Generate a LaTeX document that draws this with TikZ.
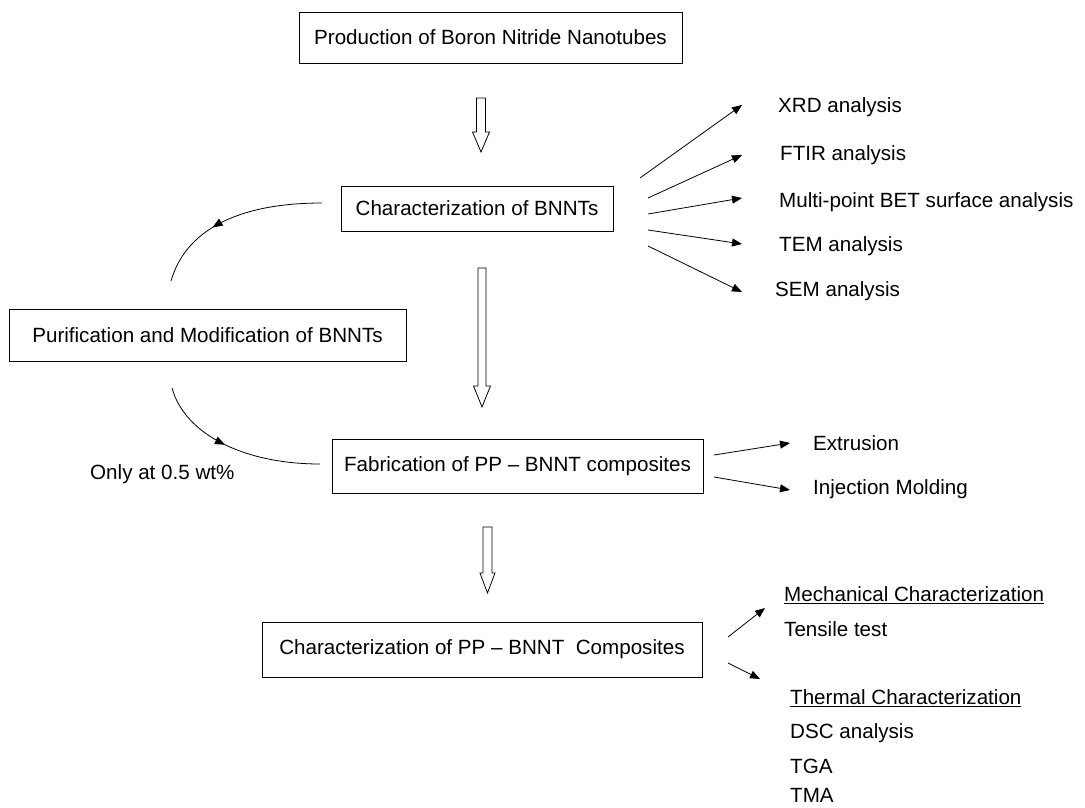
\documentclass[tikz,border=0pt]{standalone}
\usepackage{fontspec}
\setmainfont{Liberation Sans}
\usetikzlibrary{arrows.meta,decorations.markings}
\begin{document}
\begin{tikzpicture}[x=1pt,y=-1pt,
  every node/.style={font=\fontsize{20.6}{24}\selectfont},
  box/.style={draw,line width=0.9pt,inner sep=0pt,align=center},
  lbl/.style={anchor=west,inner sep=0pt},
  arr/.style={line width=0.8pt,-{Triangle[length=10pt,width=8pt]}},
  curv/.style={line width=0.8pt,postaction={decorate},
    decoration={markings,mark=at position #1 with {\arrow{Triangle[length=10pt,width=8pt]}}}},
  hollow/.style={draw,line width=0.8pt,fill=white,line join=miter}
]
\useasboundingbox (0,0) rectangle (1085,808);

% boxes
\node[box,minimum width=383pt,minimum height=51pt] (prod) at (490.5,37.5) {Production of Boron Nitride Nanotubes};
\node[box,minimum width=272pt,minimum height=45pt] (cb) at (477,208.5) {Characterization of BNNTs};
\node[box,minimum width=397pt,minimum height=52pt] (pur) at (207.5,335) {Purification and Modification of BNNTs};
\node[box,minimum width=371pt,minimum height=54pt] (fab) at (517.5,466) {Fabrication of PP -- BNNT composites};
\node[box,minimum width=440pt,minimum height=55pt] (cpp) at (482,649.5) {Characterization of PP -- BNNT\ \ Composites};

% hollow arrows
\newcommand\hollowarrow[6]{% x, halfshaft, top, headstart, halfhead, tip
  \path[hollow] (#1-#2,#3) -- (#1+#2,#3) -- (#1+#2,#4) -- (#1+#5,#4) -- (#1,#6) -- (#1-#5,#4) -- (#1-#2,#4) -- cycle;}
\hollowarrow{481}{4.5}{98}{132}{8.5}{152}
\hollowarrow{482}{4}{268}{386}{8.5}{407}
\hollowarrow{487.5}{4.5}{527}{573}{7.5}{593}

% right labels for BNNT characterization
\node[lbl] (xrd) at (778,107) {XRD analysis};
\node[lbl] (ftir) at (780,155) {FTIR analysis};
\node[lbl] (bet) at (779,202) {Multi-point BET surface analysis};
\node[lbl] (tem) at (779,246) {TEM analysis};
\node[lbl] (sem) at (775,291) {SEM analysis};

\coordinate (s1) at (640,178); \coordinate (e1) at (742,105);
\coordinate (s2) at (648,198); \coordinate (e2) at (742,155);
\coordinate (s3) at (648,214); \coordinate (e3) at (742,198);
\coordinate (s4) at (648,230); \coordinate (e4) at (742,244);
\coordinate (s5) at (648,246); \coordinate (e5) at (742,292);
\draw[arr] (s1) -- (e1);
\draw[arr] (s2) -- (e2);
\draw[arr] (s3) -- (e3);
\draw[arr] (s4) -- (e4);
\draw[arr] (s5) -- (e5);

% fabrication outputs
\node[lbl] (extr) at (813,443) {Extrusion};
\node[lbl] (inj) at (813,489) {Injection Molding};
\coordinate (f1s) at (714,455); \coordinate (f1e) at (790,443);
\coordinate (f2s) at (714,477); \coordinate (f2e) at (790,490);
\draw[arr] (f1s) -- (f1e);
\draw[arr] (f2s) -- (f2e);

% composite characterization outputs
\node[lbl] (mech) at (784,595) {\underline{Mechanical Characterization}};
\node[lbl] (tens) at (784,629) {Tensile\ test};
\node[lbl] (therm) at (790,698) {\underline{Thermal Characterization}};
\node[lbl] (dsc) at (790,733) {DSC analysis};
\node[lbl] (tga) at (790,766) {TGA};
\node[lbl] (tma) at (790,795) {TMA};
\coordinate (c1s) at (728,637); \coordinate (c1e) at (765,608);
\coordinate (c2s) at (728,663); \coordinate (c2e) at (760,679);
\draw[arr] (c1s) -- (c1e);
\draw[arr] (c2s) -- (c2e);

% loop through purification
\coordinate (la) at (322,203); \coordinate (lb) at (171,281);
\coordinate (lc) at (172,388); \coordinate (ld) at (320,464);
\draw[curv=0.62] (la) .. controls (235,203) and (185,232) .. (lb);
\draw[curv=0.45] (lc) .. controls (185,435) and (245,464) .. (ld);
\node[lbl] (note) at (90,474) {Only at 0.5 wt\%};
\end{tikzpicture}
\end{document}
